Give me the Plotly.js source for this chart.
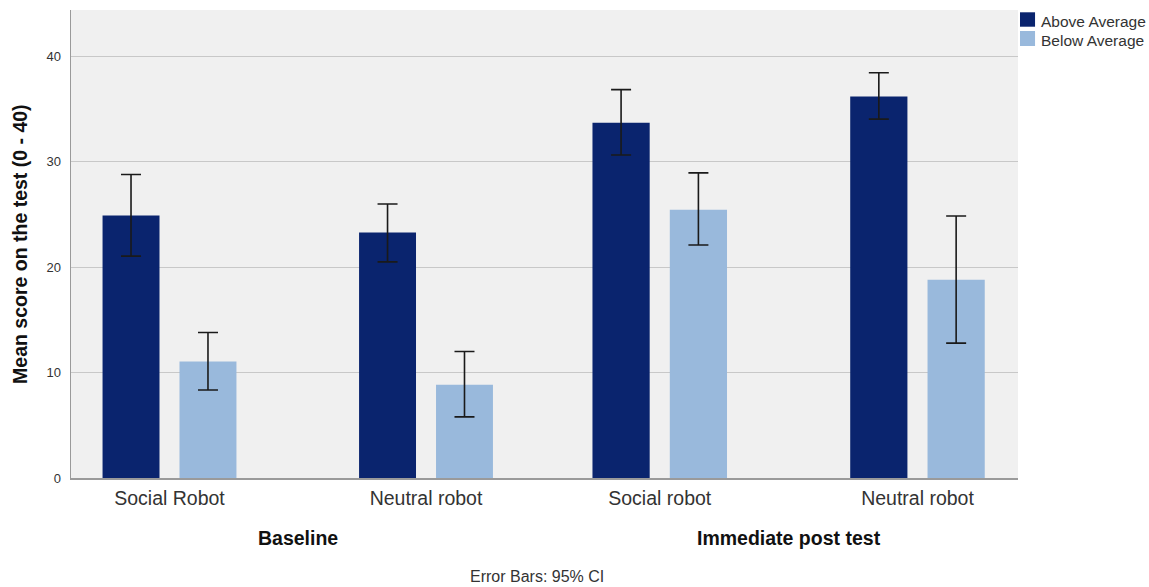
<!DOCTYPE html>
<html>
<head>
<meta charset="utf-8">
<script src="https://cdn.plot.ly/plotly-3.0.1.min.js"></script>
<style>html,body{margin:0;padding:0;background:#fff;}#chart{width:1149px;height:587px;}</style>
</head>
<body>
<div id="chart"></div>
<script>
// ---- data ----
const baselineCats = ['Social Robot', 'Neutral robot'];
const postCats = ['Social robot', 'Neutral robot'];
const groupTitles = ['Baseline', 'Immediate post test'];
const seriesNames = ['Above Average', 'Below Average'];

const aboveBaselineMean = [24.9, 23.3];
const aboveBaselineHi = [28.8, 26.0];
const aboveBaselineLo = [21.05, 20.5];

const belowBaselineMean = [11.05, 8.85];
const belowBaselineHi = [13.8, 12.0];
const belowBaselineLo = [8.35, 5.8];

const abovePostMean = [33.7, 36.2];
const abovePostHi = [36.85, 38.45];
const abovePostLo = [30.65, 34.05];

const belowPostMean = [25.45, 18.8];
const belowPostHi = [28.95, 24.85];
const belowPostLo = [22.1, 12.8];

const yTicks = [0, 10, 20, 30, 40];
// ---------------

const DARK = '#0a246e';
const LIGHT = '#99b9dc';
const FONT = 'Liberation Sans, Arial, sans-serif';

function plus(hi, m) { return hi.map((v, i) => +(v - m[i]).toFixed(3)); }
function minus(lo, m) { return lo.map((v, i) => +(m[i] - v).toFixed(3)); }

function mk(name, cats, mean, hi, lo, color, xa) {
  return {
    type: 'bar', name: name, x: cats, y: mean, xaxis: xa, yaxis: 'y',
    marker: {color: color}, showlegend: false,
    error_y: {type: 'data', symmetric: false, array: plus(hi, mean), arrayminus: minus(lo, mean),
              color: '#1a1a1a', thickness: 1.6, width: 10},
    hoverinfo: 'skip'
  };
}

const traces = [
  mk(seriesNames[0], baselineCats, aboveBaselineMean, aboveBaselineHi, aboveBaselineLo, DARK, 'x'),
  mk(seriesNames[1], baselineCats, belowBaselineMean, belowBaselineHi, belowBaselineLo, LIGHT, 'x'),
  mk(seriesNames[0], postCats, abovePostMean, abovePostHi, abovePostLo, DARK, 'x2'),
  mk(seriesNames[1], postCats, belowPostMean, belowPostHi, belowPostLo, LIGHT, 'x2')
];

const xCommon = {
  type: 'category', showline: true, linecolor: '#9a9a9a', linewidth: 1.5,
  showgrid: false, zeroline: false, ticks: 'outside', ticklen: 2, tickcolor: 'rgba(0,0,0,0)',
  anchor: 'y', fixedrange: true,
  tickfont: {family: FONT, size: 19.5, color: '#333'}
};

// custom legend (swatches + labels)
const legendColors = [DARK, LIGHT];
const legTop = [0.9951, 0.9551];
const legBot = [0.9643, 0.9231];
const legShapes = seriesNames.map((n, i) => ({
  type: 'rect', xref: 'paper', yref: 'paper', x0: 1.0021, x1: 1.0180,
  y0: legBot[i], y1: legTop[i], fillcolor: legendColors[i], line: {width: 0}
}));
const legLabels = seriesNames.map((n, i) => ({
  text: n, xref: 'paper', yref: 'paper', x: 1.0222, y: (legTop[i] + legBot[i]) / 2 - 0.004,
  xanchor: 'left', yanchor: 'middle', showarrow: false,
  font: {family: FONT, size: 15.5, color: '#333'}
}));

const layout = {
  width: 1149, height: 587,
  margin: {l: 71, r: 131, t: 10, b: 109},
  paper_bgcolor: '#ffffff', plot_bgcolor: '#f0f0f0',
  font: {family: FONT, color: '#333'},
  showlegend: false,
  barmode: 'group', bargap: 0.4, bargroupgap: 0.26,
  xaxis: Object.assign({}, xCommon, {domain: [0, 0.4984], range: [-0.384, 1.456]}),
  xaxis2: Object.assign({}, xCommon, {domain: [0.4984, 1], range: [-0.453, 1.39]}),
  yaxis: {
    range: [0, 44.4], tickvals: yTicks, ticktext: yTicks.map(String),
    showline: true, linecolor: '#9a9a9a', linewidth: 1.5,
    showgrid: true, gridcolor: '#c8c8c8', gridwidth: 1.2, zeroline: false,
    ticks: 'outside', ticklen: 6, tickcolor: 'rgba(0,0,0,0)',
    tickfont: {family: FONT, size: 13, color: '#333'}, fixedrange: true
  },
  shapes: legShapes,
  annotations: [
    {text: '<b>Mean score on the test (0 - 40)</b>', textangle: -90, xref: 'paper', yref: 'paper',
     x: -0.0539, y: 0.5, xanchor: 'center', yanchor: 'middle', showarrow: false,
     font: {family: FONT, size: 19.5, color: '#111'}},
    {text: '<b>' + groupTitles[0] + '</b>', xref: 'x', yref: 'paper', x: 0.5, y: -0.128,
     xanchor: 'center', yanchor: 'middle', showarrow: false, font: {family: FONT, size: 19.5, color: '#111'}},
    {text: '<b>' + groupTitles[1] + '</b>', xref: 'x2', yref: 'paper', x: 0.5, y: -0.128,
     xanchor: 'center', yanchor: 'middle', showarrow: false, font: {family: FONT, size: 19.5, color: '#111'}},
    {text: 'Error Bars: 95% CI', xref: 'paper', yref: 'paper', x: 0.492, y: -0.2115,
     xanchor: 'center', yanchor: 'middle', showarrow: false, font: {family: FONT, size: 16, color: '#333'}}
  ].concat(legLabels)
};

Plotly.newPlot('chart', traces, layout, {displayModeBar: false, staticPlot: true});
</script>
</body>
</html>
